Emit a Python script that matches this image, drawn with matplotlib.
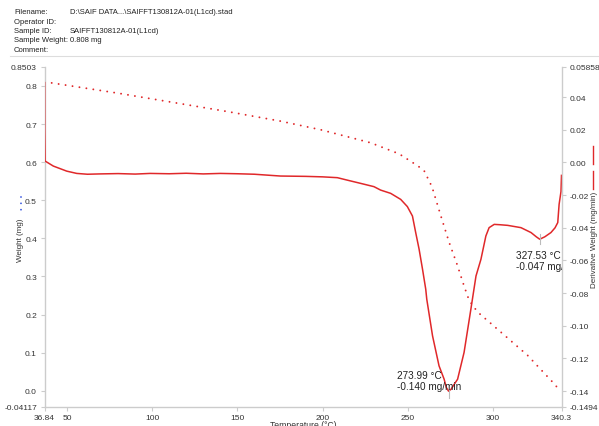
import matplotlib
matplotlib.use("Agg")
import matplotlib.pyplot as plt
from matplotlib.lines import Line2D

plt.rcParams['font.family'] = ['Liberation Sans', 'DejaVu Sans']

# ---- data ----
weight_T = [41.0, 80.0, 144.0, 175.0, 199.0, 228.2, 244.9, 255.7, 259.6, 264.3,
            269.4, 274.3, 279.2, 283.1, 286.1, 291.0, 304.7, 320.4, 336.1, 338.5]
weight_mg = [0.808, 0.781, 0.733, 0.708, 0.685, 0.651, 0.622, 0.591, 0.578, 0.535,
             0.460, 0.390, 0.329, 0.275, 0.237, 0.207, 0.154, 0.093, 0.018, 0.005]

deriv_T = [36.84, 36.9, 37.1, 41.96, 49.84, 55.72, 62.0, 69.4, 80.0, 90.0, 98.8,
           110.0, 120.0, 130.0, 140.0, 150.0, 160.0, 175.3, 190.0, 200.0, 208.7,
           214.5, 222.4, 230.2, 234.1, 240.0, 245.9, 249.8, 252.8, 254.7, 256.7,
           258.7, 260.6, 261.2, 264.6, 268.4, 271.4, 272.7, 273.99, 275.5, 277.2,
           279.3, 283.1, 287.1, 290.1, 293.0, 295.9, 297.8, 300.8, 304.0, 308.7,
           316.5, 322.4, 325.5, 327.53, 330.5, 334.1, 336.5, 338.1, 338.9, 340.0, 340.3]
deriv_mg_min = [0.0489, 0.0200, 0.0009, -0.0022, -0.0053, -0.0067, -0.0072, -0.0070,
                -0.0068, -0.0071, -0.0067, -0.0069, -0.0066, -0.0070, -0.0067, -0.0069,
                -0.0072, -0.0083, -0.0085, -0.0088, -0.0093, -0.0108, -0.0128, -0.0148,
                -0.0169, -0.0189, -0.0226, -0.0270, -0.0328, -0.0429, -0.0531, -0.0653,
                -0.0776, -0.0837, -0.1062, -0.1245, -0.1327, -0.1378, -0.1400, -0.1388,
                -0.1360, -0.1327, -0.1163, -0.0898, -0.0695, -0.0593, -0.0450, -0.0399,
                -0.0379, -0.0381, -0.0385, -0.0399, -0.0429, -0.0455, -0.0470, -0.0455,
                -0.0429, -0.0400, -0.0368, -0.0256, -0.0178, -0.0079]

x_ticks = [36.84, 50, 100, 150, 200, 250, 300, 340.3]
x_ticklabels = ['36.84', '50', '100', '150', '200', '250', '300', '340.3']
left_ticks = [-0.04117, 0.0, 0.1, 0.2, 0.3, 0.4, 0.5, 0.6, 0.7, 0.8, 0.8503]
left_ticklabels = ['-0.04117', '0.0', '0.1', '0.2', '0.3', '0.4', '0.5', '0.6', '0.7', '0.8', '0.8503']
right_ticks = [-0.1494, -0.14, -0.12, -0.10, -0.08, -0.06, -0.04, -0.02, 0.00, 0.02, 0.04, 0.05858]
right_ticklabels = ['-0.1494', '-0.14', '-0.12', '-0.10', '-0.08', '-0.06', '-0.04', '-0.02',
                    '0.00', '0.02', '0.04', '0.05858']

peak1_T, peak1_D = 273.99, -0.140
peak2_T, peak2_D = 327.53, -0.047

header_keys = ['Filename:', 'Operator ID:', 'Sample ID:', 'Sample Weight:', 'Comment:']
header_vals = ['D:\\SAIF DATA...\\SAIFFT130812A-01(L1cd).stad', '', 'SAIFFT130812A-01(L1cd)', '0.808 mg', '']

# ---- figure ----
W, H = 599, 427
fig = plt.figure(figsize=(W / 100, H / 100), dpi=100)

def fx(px):
    return px / W

def fy(py):
    return 1 - py / H

ax = fig.add_axes([fx(44.6), fy(407.5), fx(561.5) - fx(44.6), fy(67.8) - fy(407.5)])
ax2 = ax.twinx()

red = '#e0282a'
grey = '#cccccc'
tc = '#333333'
fs = 6.0

ax.plot(weight_T, weight_mg, color=red, lw=1.4, linestyle=(0, (0.01, 3.6)),
        dash_capstyle='round')
ax2.plot(deriv_T, deriv_mg_min, color=red, lw=1.1, solid_joinstyle='round')

ax.set_xlim(36.84, 340.3)
ax.set_ylim(-0.04117, 0.8503)
ax2.set_ylim(-0.1494, 0.05858)

ax.set_xticks(x_ticks)
ax.set_xticklabels(x_ticklabels)
ax.set_yticks(left_ticks)
ax.set_yticklabels(left_ticklabels)
ax2.set_yticks(right_ticks)
ax2.set_yticklabels(right_ticklabels)

for a in (ax, ax2):
    a.tick_params(axis='both', labelsize=fs, colors=grey, labelcolor=tc, length=3, width=0.8, pad=2.5)
    for s in a.spines.values():
        s.set_color(grey)
        s.set_linewidth(1.0)
    a.spines['top'].set_visible(False)
ax.spines['right'].set_visible(False)
ax2.spines['left'].set_visible(False)
ax2.spines['bottom'].set_visible(False)

# marker ticks at minima
ax2.plot([peak1_T, peak1_T], [peak1_D - 0.0045, peak1_D + 0.0005], color='#bbbbbb', lw=0.8)
ax2.plot([peak2_T, peak2_T], [peak2_D - 0.003, peak2_D + 0.003], color='#bbbbbb', lw=0.8)

ax2.text(244.0, -0.1335, f'{peak1_T:.2f} °C\n{peak1_D:.3f} mg/min', fontsize=7.2,
         color='#222222', va='center', ha='left', linespacing=1.15)
ax2.text(313.5, -0.0600, f'{peak2_T:.2f} °C\n{peak2_D:.3f} mg/min', fontsize=7.2,
         color='#222222', va='center', ha='left', linespacing=1.15, clip_on=True)

# axis labels
fig.text(fx(21), fy(240), 'Weight (mg)', rotation=90, fontsize=5.8, color=tc,
         ha='center', va='center')
fig.text(fx(594.5), fy(240), 'Derivative Weight (mg/min)', rotation=90, fontsize=5.8,
         color=tc, ha='center', va='center')
fig.text(fx(303), fy(421.5), 'Temperature (°C)', fontsize=6.2, color=tc, ha='center', va='top')

# legend swatches next to axis labels
fig.add_artist(Line2D([fx(21), fx(21)], [fy(198), fy(215)], color='#3050e0', lw=1.3,
                      linestyle=(0, (0.01, 3.5)), dash_capstyle='round',
                      transform=fig.transFigure))
fig.add_artist(Line2D([fx(593), fx(593)], [fy(147), fy(165)], color=red, lw=1.0,
                      transform=fig.transFigure))
fig.add_artist(Line2D([fx(593), fx(593)], [fy(172), fy(190)], color=red, lw=1.0,
                      transform=fig.transFigure))

# header block
ys = [12.5, 22, 31.5, 41, 50.5]
for k, v, y in zip(header_keys, header_vals, ys):
    fig.text(fx(14), fy(y), k, fontsize=5.5, color='#222222', va='center', ha='left')
    fig.text(fx(70), fy(y), v, fontsize=5.5, color='#222222', va='center', ha='left')
fig.add_artist(Line2D([fx(10), fx(599)], [fy(57), fy(57)], color='#dddddd', lw=0.8,
                      transform=fig.transFigure))

fig.savefig('out.png', dpi=100)
